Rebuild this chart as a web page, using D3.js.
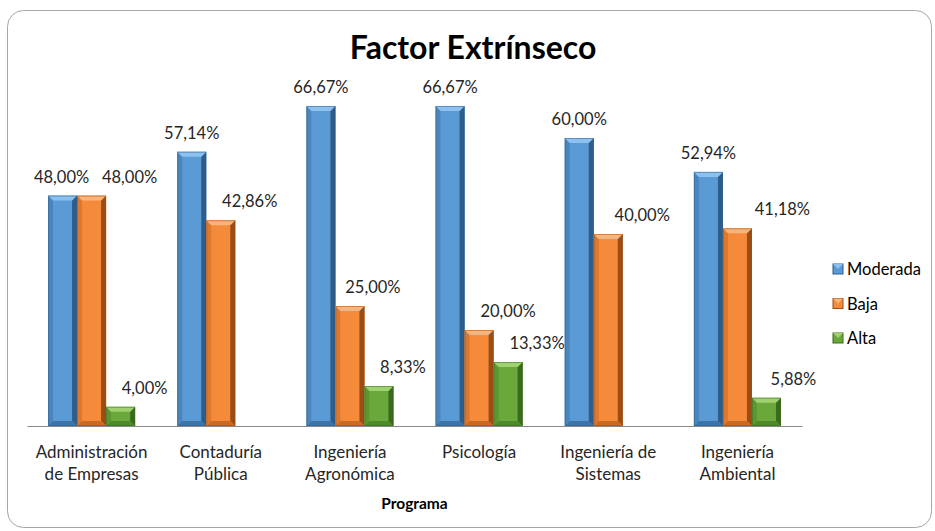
<!DOCTYPE html>
<html>
<head>
<meta charset="utf-8">
<script src="https://cdn.jsdelivr.net/npm/d3@7"></script>
<style>
  html, body { margin: 0; padding: 0; background: #fff; }
  svg text { font-family: Lato, "Open Sans", sans-serif; }
</style>
</head>
<body>
<svg id="chart" width="935" height="531"></svg>
<script>
// data
const categories = ['Administración de Empresas', 'Contaduría Pública', 'Ingeniería Agronómica',
    'Psicología', 'Ingeniería de Sistemas', 'Ingeniería Ambiental'];
const tickLabels = [
    ['Administración', 'de Empresas'],
    ['Contaduría', 'Pública'],
    ['Ingeniería', 'Agronómica'],
    ['Psicología'],
    ['Ingeniería de', 'Sistemas'],
    ['Ingeniería', 'Ambiental']
];
const seriesNames = ['Moderada', 'Baja', 'Alta'];
const moderada = [48.00, 57.14, 66.67, 66.67, 60.00, 52.94];
const baja = [48.00, 42.86, 25.00, 20.00, 40.00, 41.18];
const alta = [4.00, null, 8.33, 13.33, null, 5.88];

// label nudges (the labels were dragged by hand in the original)
const labelShift = {
    Moderada: [-1, 0, 0, 0, 0, 0],
    Baja: [38, 29, 23, 29, 34, 45],
    Alta: [24, 0, 24, 29, 0, 27]
};

const colors = {
    Moderada: { base: '#5b9bd5', light: '#8cc0ef', dark: '#2e5d89', edge: '#3d74a8' },
    Baja: { base: '#f58a3a', light: '#fbb478', dark: '#9a4e15', edge: '#c86a23' },
    Alta: { base: '#6aa83c', light: '#9fd16f', dark: '#3b6a1e', edge: '#4f8a2a' }
};

const rows = categories.map((c, i) => ({
    cat: c,
    values: [
        { key: 'Moderada', v: moderada[i], i },
        { key: 'Baja', v: baja[i], i },
        { key: 'Alta', v: alta[i], i }
    ]
}));

const svg = d3.select('#chart');
const fmt = (v) => d3.format('.2f')(v).replace('.', ',') + '%';

// frame
svg.append('rect')
    .attr('x', 7.5).attr('y', 10.5)
    .attr('width', 924).attr('height', 517)
    .attr('rx', 16)
    .attr('fill', '#fff')
    .attr('stroke', '#a6a6a6')
    .attr('stroke-width', 1);

svg.append('text')
    .attr('x', 473).attr('y', 59)
    .attr('text-anchor', 'middle')
    .style('font-size', '32px')
    .style('font-weight', 700)
    .attr('fill', '#000')
    .text('Factor Extrínseco');

const x0 = d3.scaleBand().domain(categories).range([27, 802])
    .paddingInner(0.326).paddingOuter(0.163);
const x1 = d3.scaleBand().domain(seriesNames).range([0, x0.bandwidth()]);
const y = d3.scaleLinear().domain([0, 70]).range([426, 90]);

const BEV = 5;

const groups = svg.selectAll('g.cat')
    .data(rows)
    .enter()
    .append('g')
    .attr('class', 'cat')
    .attr('transform', (d) => `translate(${x0(d.cat)},0)`);

const bars = groups.selectAll('g.bar')
    .data((d) => d.values.filter((s) => s.v != null))
    .enter()
    .append('g')
    .attr('class', 'bar');

bars.each(function (d) {
    const g = d3.select(this);
    const c = colors[d.key];
    const bx = x1(d.key), bw = x1.bandwidth();
    const top = y(d.v), bot = y(0);
    const b = Math.min(BEV, (bot - top) / 2);

    g.append('rect')
        .attr('x', bx).attr('y', top)
        .attr('width', bw).attr('height', bot - top)
        .attr('fill', c.base);
    // left side
    g.append('polygon')
        .attr('points', [[bx, top], [bx + b, top + b], [bx + b, bot - b], [bx, bot]].join(' '))
        .attr('fill', c.edge).attr('opacity', 0.55);
    // right side
    g.append('polygon')
        .attr('points', [[bx + bw, top], [bx + bw - b, top + b], [bx + bw - b, bot - b], [bx + bw, bot]].join(' '))
        .attr('fill', c.dark);
    // top
    g.append('polygon')
        .attr('points', [[bx, top], [bx + bw, top], [bx + bw - b, top + b], [bx + b, top + b]].join(' '))
        .attr('fill', c.light);
    // bottom
    g.append('polygon')
        .attr('points', [[bx, bot], [bx + bw, bot], [bx + bw - b, bot - b], [bx + b, bot - b]].join(' '))
        .attr('fill', c.edge);
    g.append('rect')
        .attr('x', bx + 0.5).attr('y', top + 0.5)
        .attr('width', bw - 1).attr('height', bot - top - 1)
        .attr('fill', 'none')
        .attr('stroke', c.dark).attr('stroke-opacity', 0.5);
});

bars.append('text')
    .attr('x', (d) => x1(d.key) + x1.bandwidth() / 2 + labelShift[d.key][d.i])
    .attr('y', (d) => y(d.v) - 13)
    .attr('text-anchor', 'middle')
    .style('font-size', '16.5px')
    .attr('fill', '#262626')
    .text((d) => fmt(d.v));

// x axis
const xAxis = svg.append('g')
    .attr('transform', `translate(0,${y(0)})`)
    .call(d3.axisBottom(x0).tickSize(0).tickSizeOuter(0));
xAxis.select('.domain').attr('stroke', '#898989');
xAxis.selectAll('.tick text').remove();
xAxis.selectAll('.tick').each(function (d, i) {
    const t = d3.select(this).append('text')
        .attr('text-anchor', 'middle')
        .attr('fill', '#262626')
        .style('font-size', '17px');
    tickLabels[i].forEach((line, k) => {
        t.append('tspan').attr('x', 0).attr('y', 32 + k * 22).text(line);
    });
});

svg.append('text')
    .attr('x', 414.5).attr('y', 509)
    .attr('text-anchor', 'middle')
    .style('font-size', '15.5px')
    .style('font-weight', 700)
    .attr('fill', '#000')
    .text('Programa');

// legend
const legend = svg.append('g').attr('transform', 'translate(833,269)');
const li = legend.selectAll('g')
    .data(seriesNames)
    .enter()
    .append('g')
    .attr('transform', (d, i) => `translate(0,${i * 34.5})`);
li.append('rect')
    .attr('x', 0).attr('y', -5)
    .attr('width', 10).attr('height', 10)
    .attr('fill', (d) => colors[d].base)
    .attr('stroke', (d) => colors[d].dark).attr('stroke-width', 1);
li.append('polygon')
    .attr('points', '0,-5 10,-5 5,0')
    .attr('fill', (d) => colors[d].light);
li.append('text')
    .attr('x', 14).attr('y', 6)
    .style('font-size', '16.5px')
    .attr('fill', '#000')
    .text((d) => d);
</script>
</body>
</html>
